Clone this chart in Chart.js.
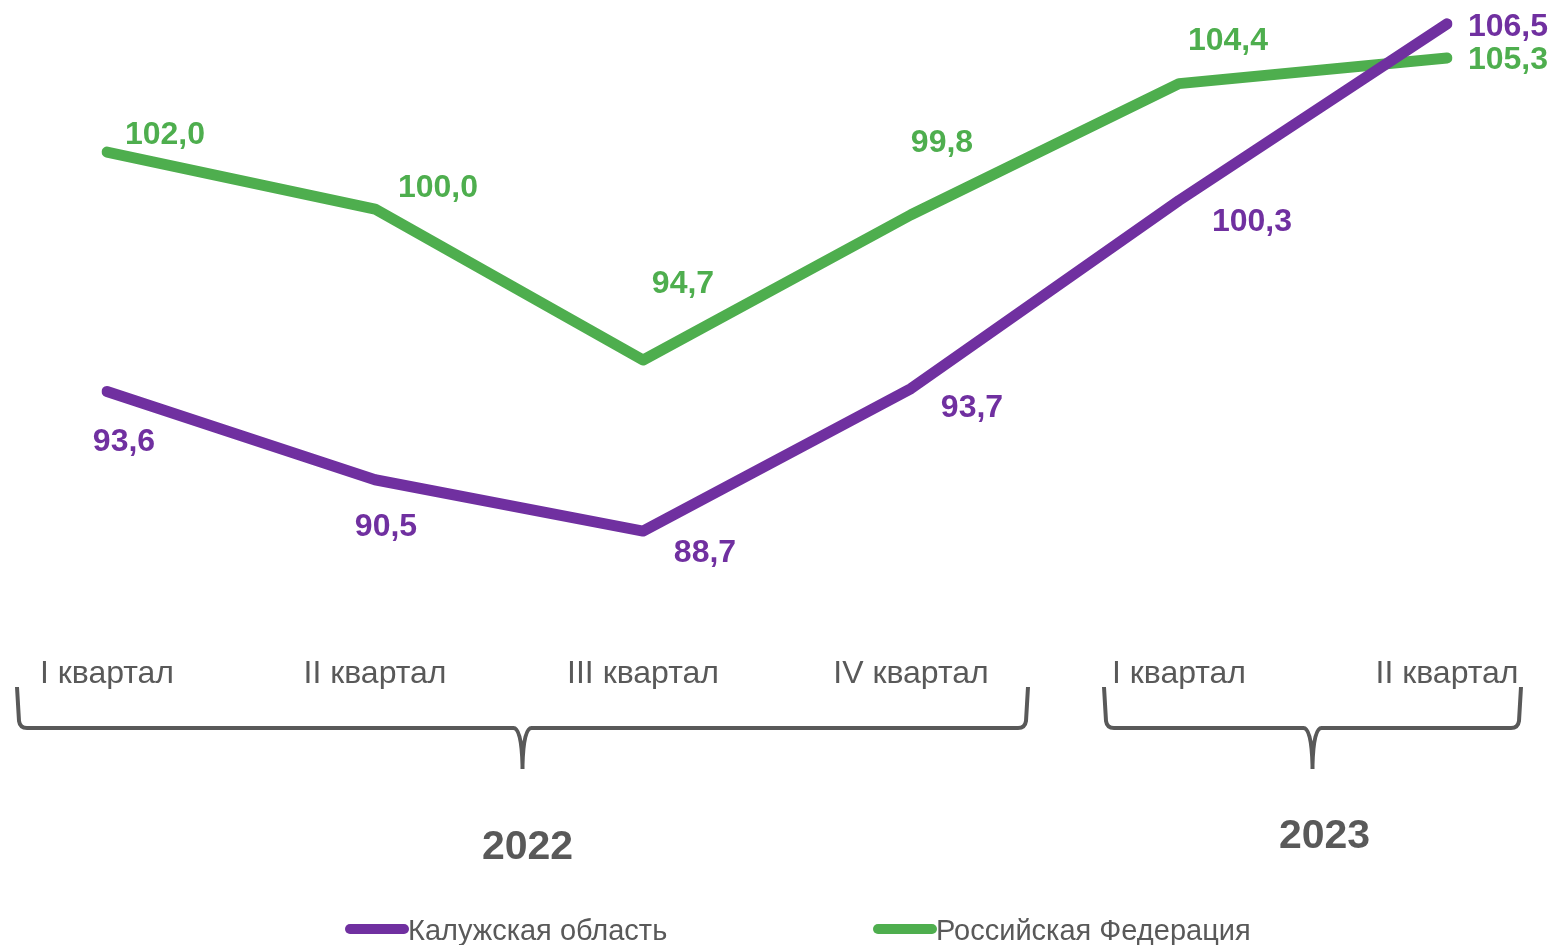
<!DOCTYPE html>
<html lang="ru">
<head>
<meta charset="utf-8">
<title>Калужская область и Российская Федерация</title>
<script src="https://cdn.jsdelivr.net/npm/chart.js@4/dist/chart.umd.min.js"></script>
<style>
    html, body { margin: 0; padding: 0; background: #fff; }
    .wrap { width: 1553px; height: 945px; position: relative; }
</style>
</head>
<body>
<div class="wrap"><canvas id="myChart" width="1553" height="945"></canvas></div>
<script>
// Data

const quarters = ['I квартал', 'II квартал', 'III квартал', 'IV квартал', 'I квартал', 'II квартал'];
const years = ['2022', '2023'];
const yearFirst = [0, 4];
const yearLast = [3, 5];

const kalugaValues = [93.6, 90.5, 88.7, 93.7, 100.3, 106.5];
const russiaValues = [102.0, 100.0, 94.7, 99.8, 104.4, 105.3];

const seriesNames = ['Калужская область', 'Российская Федерация'];

// label offsets from the point (px)
const kalugaOffsets = [[17, 51], [11, 47], [62, 22], [61, 20], [73, 22], [61, 3]];
const russiaOffsets = [[58, -17], [63, -21], [40, -76], [31, -72], [49, -42], [61, 2]];

const purple = '#7030A0';
const green = '#4EAE4E';
const grey = '#595959';
const fontName = '"Liberation Sans", Arial, sans-serif';

// Value labels

const valueLabels = {
    id: 'valueLabels',
    afterDatasetsDraw(chart) {
        const ctx = chart.ctx;
        const offsets = [kalugaOffsets, russiaOffsets];
        ctx.save();
        ctx.font = 'bold 32px ' + fontName;
        ctx.textAlign = 'center';
        ctx.textBaseline = 'middle';
        chart.data.datasets.forEach((ds, i) => {
            const meta = chart.getDatasetMeta(i);
            ctx.fillStyle = ds.borderColor;
            meta.data.forEach((pt, j) => {
                const text = ds.data[j].toFixed(1).replace('.', ',');
                ctx.fillText(text, pt.x + offsets[i][j][0], pt.y + offsets[i][j][1]);
            });
        });
        ctx.restore();
    }
};

// Brackets, years, legend

function drawBracket(ctx, x1, x2, top, mid, tip) {
    const cx = (x1 + x2) / 2;
    const r = 7;
    ctx.beginPath();
    ctx.moveTo(x1, top);
    ctx.lineTo(x1 + 2, mid - r);
    ctx.quadraticCurveTo(x1 + 3, mid, x1 + r + 3, mid);
    ctx.lineTo(cx - 9, mid);
    ctx.quadraticCurveTo(cx - 1, mid, cx, tip - 4);
    ctx.lineTo(cx, tip);
    ctx.moveTo(cx, tip - 4);
    ctx.quadraticCurveTo(cx + 1, mid, cx + 9, mid);
    ctx.lineTo(x2 - r - 3, mid);
    ctx.quadraticCurveTo(x2 - 3, mid, x2 - 2, mid - r);
    ctx.lineTo(x2, top);
    ctx.stroke();
}

const groups = {
    id: 'groups',
    afterDraw(chart) {
        const ctx = chart.ctx;
        const x = chart.scales.x;
        ctx.save();
        ctx.strokeStyle = grey;
        ctx.lineWidth = 4;
        ctx.lineJoin = 'round';

        const spans = [[-90, 117], [-75, 74]];
        const yearShift = [5, 12];
        const yearY = [848, 837];
        years.forEach((year, i) => {
            const x1 = x.getPixelForValue(yearFirst[i]) + spans[i][0];
            const x2 = x.getPixelForValue(yearLast[i]) + spans[i][1];
            drawBracket(ctx, x1, x2, 687, 728, 769);
            ctx.fillStyle = grey;
            ctx.font = 'bold 41px ' + fontName;
            ctx.textAlign = 'center';
            ctx.textBaseline = 'middle';
            ctx.fillText(year, (x1 + x2) / 2 + yearShift[i], yearY[i]);
        });

        // legend
        const legendX = [350, 878];
        ctx.font = '29px ' + fontName;
        ctx.textAlign = 'left';
        ctx.textBaseline = 'middle';
        ctx.lineCap = 'round';
        chart.data.datasets.forEach((ds, i) => {
            ctx.strokeStyle = ds.borderColor;
            ctx.lineWidth = 10;
            ctx.beginPath();
            ctx.moveTo(legendX[i], 929);
            ctx.lineTo(legendX[i] + 54, 929);
            ctx.stroke();
            ctx.fillStyle = grey;
            ctx.fillText(ds.label, legendX[i] + 58, 932);
        });
        ctx.restore();
    }
};

// Chart

const ctx = document.getElementById('myChart').getContext('2d');

new Chart(ctx, {
    type: 'line',
    data: {
        labels: quarters,
        datasets: [
            {
                label: seriesNames[0],
                data: kalugaValues,
                borderColor: purple,
                backgroundColor: purple,
                borderWidth: 11,
                borderCapStyle: 'round',
                borderJoinStyle: 'round',
                pointRadius: 0,
                tension: 0
            },
            {
                label: seriesNames[1],
                data: russiaValues,
                borderColor: green,
                backgroundColor: green,
                borderWidth: 11,
                borderCapStyle: 'round',
                borderJoinStyle: 'round',
                pointRadius: 0,
                tension: 0
            }
        ]
    },
    options: {
        responsive: false,
        animation: false,
        events: [],
        layout: {
            padding: { left: 107, right: 106, top: 1, bottom: 256 }
        },
        plugins: {
            legend: { display: false },
            tooltip: { enabled: false }
        },
        scales: {
            x: {
                offset: false,
                grid: { display: false, drawTicks: false },
                border: { display: false },
                ticks: {
                    padding: 47,
                    color: grey,
                    autoSkip: false,
                    maxRotation: 0,
                    font: { family: fontName, size: 32 }
                },
                afterFit(scale) {
                    scale.height = 81;
                    scale.paddingLeft = 0;
                    scale.paddingRight = 0;
                }
            },
            y: {
                display: false,
                min: 86,
                max: 107.3
            }
        }
    },
    plugins: [valueLabels, groups]
});
</script>
</body>
</html>
